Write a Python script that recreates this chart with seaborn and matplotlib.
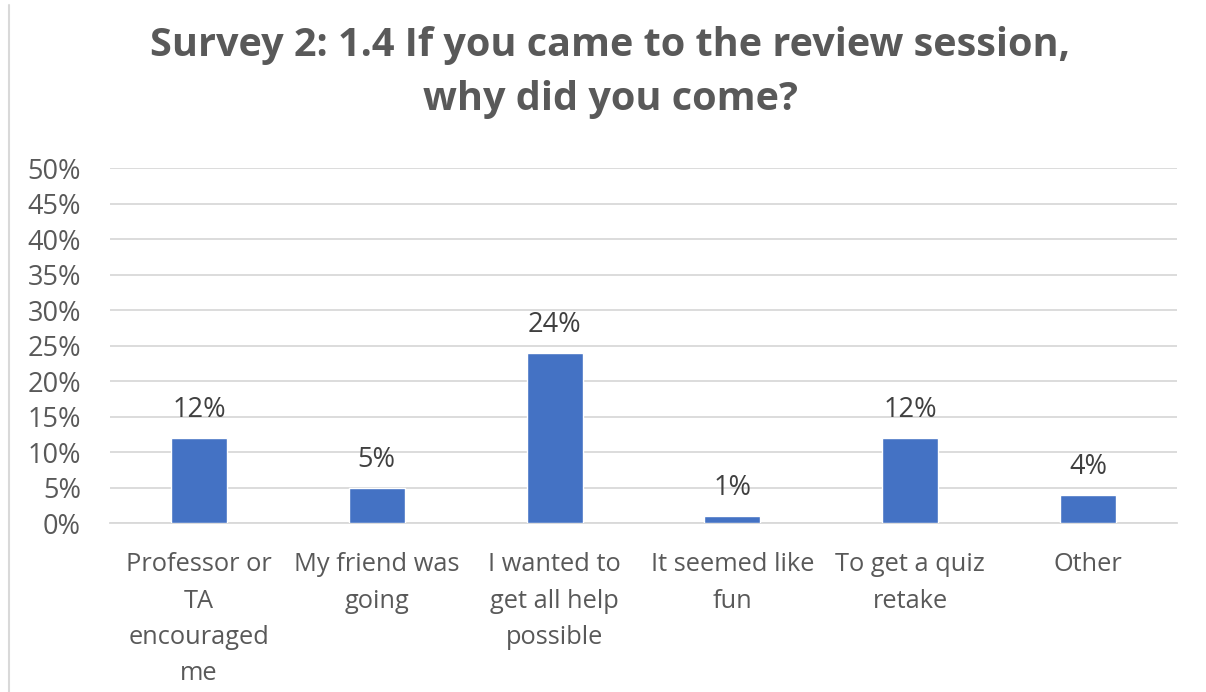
import matplotlib
matplotlib.use("Agg")
import matplotlib.pyplot as plt
from matplotlib.lines import Line2D
from matplotlib.ticker import MultipleLocator, FuncFormatter
import seaborn as sns
import pandas as pd

categories = [
    "Professor or\nTA\nencouraged\nme",
    "My friend was\ngoing",
    "I wanted to\nget all help\npossible",
    "It seemed like\nfun",
    "To get a quiz\nretake",
    "Other",
]
percentages = [12, 5, 24, 1, 12, 4]
title_text = "Survey 2: 1.4 If you came to the review session,\nwhy did you come?"

sns.set_theme(style="white")
plt.rcParams["font.family"] = ["Open Sans", "DejaVu Sans"]

bar_color = "#4472C4"
text_grey = "#595959"
grid_grey = "#D9D9D9"

df = pd.DataFrame({"reason": categories, "pct": percentages})

fig = plt.figure(figsize=(12.06, 6.92), dpi=100)
ax = fig.add_axes([0.0912, 0.2442, 0.976 - 0.0912, 0.7572 - 0.2442])

sns.barplot(data=df, x="reason", y="pct", color=bar_color, width=0.315,
            saturation=1, ax=ax, zorder=3)

ax.set_ylim(0, 50)
ax.set_xlim(-0.5, len(categories) - 0.5)
ax.yaxis.set_major_locator(MultipleLocator(5))
ax.yaxis.set_major_formatter(FuncFormatter(lambda v, _: f"{v:.0f}%"))
ax.grid(axis="y", color=grid_grey, linewidth=1.3, zorder=0)
ax.grid(axis="x", visible=False)
for side in ["top", "right", "left"]:
    ax.spines[side].set_visible(False)
ax.spines["bottom"].set_color(grid_grey)
ax.spines["bottom"].set_linewidth(1.3)

ax.set_xlabel("")
ax.set_ylabel("")
ax.tick_params(axis="y", length=0, pad=21, labelsize=19.5, labelcolor=text_grey)
ax.tick_params(axis="x", length=0, pad=21, labelsize=18.3, labelcolor=text_grey)
for lbl in ax.get_xticklabels():
    lbl.set_linespacing(1.6)
    lbl.set_verticalalignment("top")

for container in ax.containers:
    ax.bar_label(container, labels=[f"{v}%" for v in percentages],
                 padding=10, fontsize=19.5, color="#404040")

fig.text(0.506, 0.895, title_text, ha="center", va="center",
         fontsize=28.5, fontweight="bold", color=text_grey, linespacing=1.52)

fig.add_artist(Line2D([0.0075, 0.0075], [0.0, 0.993], transform=fig.transFigure,
                      color="#D9D9D9", linewidth=1.5))

fig.savefig("out.png", dpi=100, facecolor="white")
